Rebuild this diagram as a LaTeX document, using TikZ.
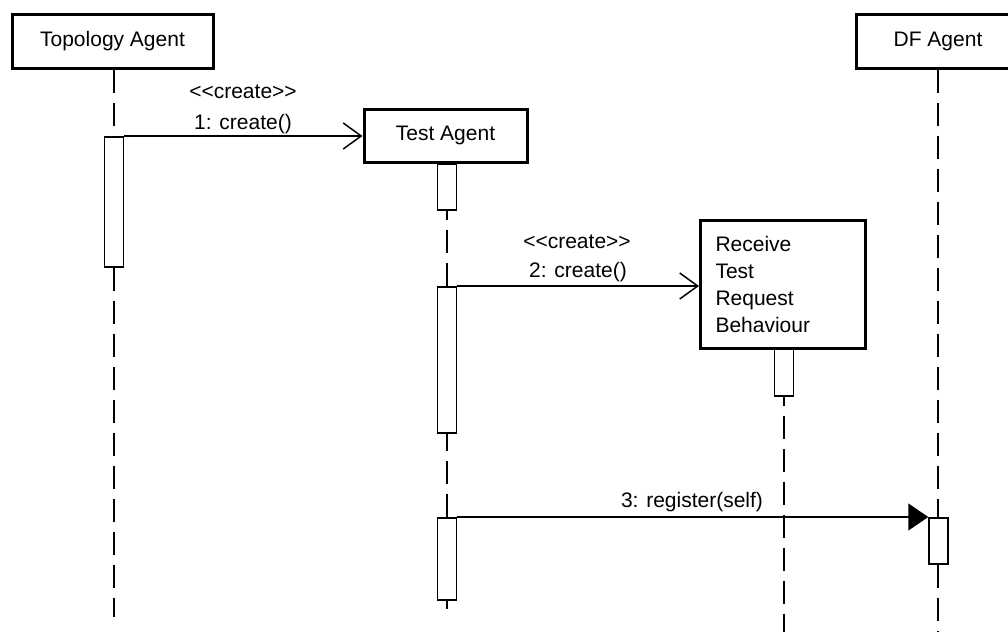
\documentclass[tikz,border=0pt]{standalone}
\usepackage{fontspec}
\setmainfont{Liberation Sans}
\usetikzlibrary{arrows.meta}
\begin{document}
\begin{tikzpicture}[x=1pt,y=-1pt,
  obj/.style={draw, line width=3pt, fill=white, inner sep=0pt, font=\fontsize{21}{27}\selectfont},
  act/.style={draw, line width=1.5pt, fill=white, inner sep=0pt, minimum width=19pt},
  life/.style={line width=1.5pt, dash pattern=on 23pt off 10pt},
  msg/.style={line width=1.5pt},
  openarr/.style={msg, -{Straight Barb[length=18pt,width=26pt,line width=1.5pt]}},
  fillarr/.style={msg, -{Triangle[length=20pt,width=27pt]}},
  lbl/.style={font=\fontsize{21}{25}\selectfont, inner sep=0pt}]
\useasboundingbox (0,0) rectangle (1008,632);

% objects
\node[obj, minimum width=201pt, minimum height=54pt] (topo) at (112.5,41) {Topology Agent};
\node[obj, minimum width=163pt, minimum height=53pt] (test) at (445.5,135.5) {Test Agent};
\node[obj, minimum width=164pt, minimum height=128pt, text width=135pt, align=left, inner xsep=15pt] (recv) at (783,284) {Receive\\Test\\Request\\Behaviour};
\node[obj, minimum width=164pt, minimum height=54pt] (df) at (938,41) {DF Agent};

% lifeline end points
\coordinate (topoEnd) at (114,617);
\coordinate (testEnd) at (447,609);
\coordinate (recvEnd) at (784,632);
\coordinate (dfEnd) at (938,632);

% lifelines (drawn below activations)
\draw[life] (topo.south -| topoEnd) -- (topoEnd);
\draw[life] (test.south -| testEnd) -- (testEnd);
\draw[life] (recv.south -| recvEnd) -- (recvEnd);
\draw[life] (df.south) -- (dfEnd);

% activations
\node[act, minimum height=130pt, anchor=north] (a1) at (114,136) {};
\node[act, minimum height=46pt, anchor=north] (a2) at (447,163) {};
\node[act, minimum height=146pt, anchor=north] (a3) at (447,286) {};
\node[act, minimum height=82pt, anchor=north] (a4) at (447,517) {};
\node[act, minimum height=47pt, anchor=north] (a5) at (784,348) {};
\node[act, minimum height=46pt, anchor=north] (a6) at (938.5,517) {};

% messages
\draw[openarr] (a1.north east) -- (a1.north east -| test.west);
\node[lbl] (l1a) at (243,92) {<\kern0pt<create>\kern0pt>};
\node[lbl] (l1b) at (243,124) {1: create()};

\draw[openarr] (a3.north east) -- (a3.north east -| recv.west);
\node[lbl] (l2a) at (577,242) {<\kern0pt<create>\kern0pt>};
\node[lbl] (l2b) at (578,272) {2: create()};

\draw[fillarr] (a4.north east) -- (a6.north west);
\node[lbl] (l3) at (692,502) {3: register(self)};
\end{tikzpicture}
\end{document}
